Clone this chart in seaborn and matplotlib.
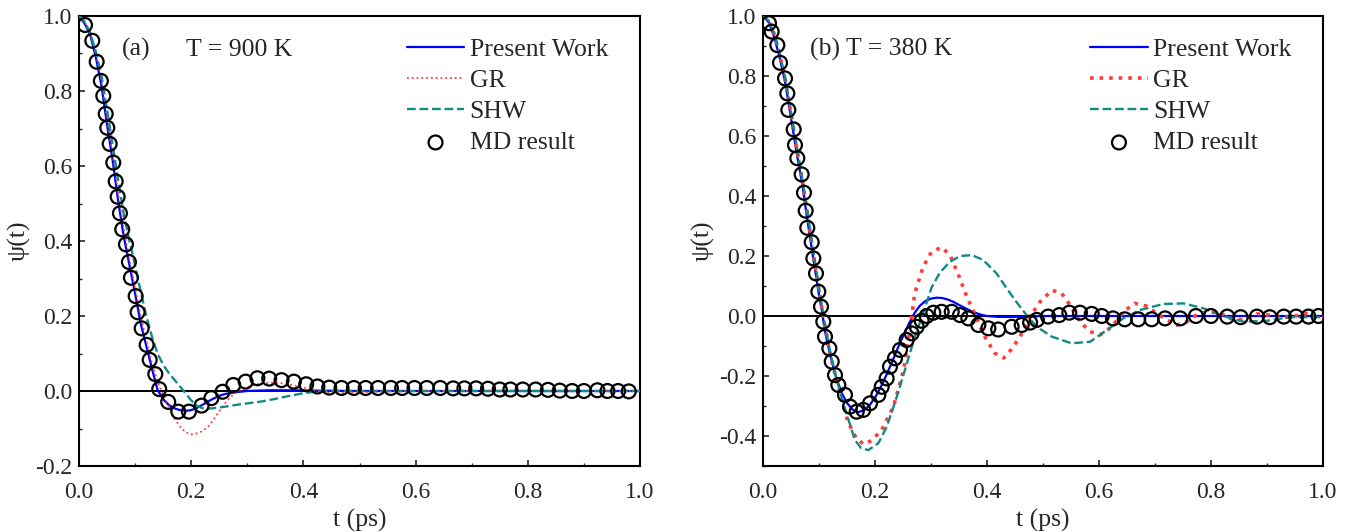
import numpy as np
import pandas as pd
import matplotlib
matplotlib.use("Agg")
import matplotlib.pyplot as plt
import seaborn as sns
from matplotlib.ticker import MultipleLocator, FormatStrFormatter

# ---------------- Panel (a): T = 900 K ----------------
a_pw_t = [0, 0.01, 0.02, 0.03, 0.04, 0.05, 0.06, 0.07, 0.08, 0.09, 0.10, 0.11, 0.12, 0.13,
          0.14, 0.15, 0.16, 0.17, 0.18, 0.19, 0.20, 0.21, 0.22, 0.23, 0.24, 0.25, 0.26,
          0.28, 0.30, 0.34, 0.38, 0.42, 0.50, 0.60, 0.80, 1.00]
a_pw_y = [1.0, 0.98, 0.95, 0.89, 0.815, 0.71, 0.615, 0.505, 0.41, 0.335, 0.26, 0.18, 0.12, 0.06,
          0.003, -0.022, -0.037, -0.046, -0.051, -0.053, -0.051, -0.045, -0.037, -0.028, -0.02,
          -0.013, -0.008, -0.003, 0.0, 0.002, 0.002, 0.001, 0.0, 0.0, 0.0, 0.0]

a_gr_t = [0, 0.01, 0.02, 0.03, 0.04, 0.05, 0.06, 0.07, 0.08, 0.09, 0.10, 0.11, 0.12, 0.13,
          0.14, 0.15, 0.16, 0.17, 0.18, 0.19, 0.20, 0.21, 0.22, 0.23, 0.24, 0.25, 0.26, 0.27,
          0.28, 0.29, 0.30, 0.32, 0.34, 0.36, 0.38, 0.40, 0.42, 0.44, 0.46, 0.48, 0.52, 0.60, 1.00]
a_gr_y = [1.0, 0.985, 0.955, 0.90, 0.83, 0.725, 0.63, 0.525, 0.43, 0.35, 0.275, 0.20, 0.135, 0.075,
          0.025, -0.01, -0.04, -0.073, -0.095, -0.11, -0.116, -0.113, -0.107, -0.095, -0.076,
          -0.054, -0.033, -0.016, -0.004, 0.005, 0.011, 0.019, 0.022, 0.021, 0.016, 0.009,
          0.002, -0.004, -0.006, -0.005, -0.002, 0.0, 0.0]

a_shw_t = [0, 0.01, 0.02, 0.03, 0.04, 0.05, 0.06, 0.07, 0.08, 0.09, 0.10, 0.11, 0.12, 0.13,
           0.14, 0.15, 0.16, 0.17, 0.18, 0.19, 0.20, 0.21, 0.22, 0.23, 0.24, 0.26, 0.28, 0.30,
           0.325, 0.35, 0.375, 0.40, 0.42, 0.45, 1.00]
a_shw_y = [1.0, 0.985, 0.955, 0.905, 0.84, 0.75, 0.655, 0.56, 0.47, 0.40, 0.335, 0.265, 0.20, 0.145,
           0.10, 0.07, 0.048, 0.03, 0.012, -0.006, -0.025, -0.039, -0.046, -0.047, -0.046,
           -0.042, -0.037, -0.033, -0.028, -0.021, -0.013, -0.006, -0.002, 0.0, 0.0]

a_md_t = [0.0107, 0.0237, 0.0315, 0.039, 0.0433, 0.0476, 0.0504, 0.0547, 0.0611, 0.0654, 0.0689,
          0.073, 0.0771, 0.0837, 0.089, 0.0926, 0.101, 0.1045, 0.1117, 0.1206, 0.126, 0.136,
          0.143, 0.159, 0.177, 0.196, 0.2185, 0.236, 0.256, 0.275, 0.297, 0.318, 0.339, 0.361,
          0.383, 0.405, 0.425, 0.446, 0.468, 0.49, 0.511, 0.533, 0.556, 0.576, 0.598, 0.62,
          0.644, 0.667, 0.687, 0.708, 0.729, 0.75, 0.769, 0.791, 0.814, 0.836, 0.857, 0.879,
          0.90, 0.924, 0.942, 0.961, 0.980]
a_md_y = [0.976, 0.934, 0.878, 0.827, 0.787, 0.739, 0.702, 0.659, 0.609, 0.559, 0.518,
          0.474, 0.431, 0.391, 0.344, 0.302, 0.253, 0.210, 0.167, 0.123, 0.083, 0.045,
          0.005, -0.029, -0.055, -0.055, -0.039, -0.019, -0.002, 0.016, 0.025, 0.034, 0.033,
          0.029, 0.025, 0.018, 0.012, 0.009, 0.008, 0.008, 0.008, 0.008, 0.008, 0.008, 0.008,
          0.008, 0.008, 0.007, 0.007, 0.007, 0.006, 0.004, 0.004, 0.004, 0.004, 0.003, 0.001,
          0.0, 0.0, 0.002, 0.0, 0.0, -0.001]

# ---------------- Panel (b): T = 380 K ----------------
b_pw_t = [0, 0.01, 0.02, 0.03, 0.04, 0.05, 0.06, 0.07, 0.08, 0.09, 0.10, 0.105, 0.11, 0.12,
          0.13, 0.14, 0.15, 0.16, 0.17, 0.18, 0.19, 0.20, 0.21, 0.22, 0.23, 0.24, 0.25, 0.26,
          0.27, 0.28, 0.29, 0.30, 0.31, 0.32, 0.33, 0.34, 0.35, 0.36, 0.37, 0.38, 0.39, 0.40,
          0.42, 0.44, 0.47, 0.50, 1.00]
b_pw_y = [1.0, 0.98, 0.93, 0.86, 0.775, 0.66, 0.545, 0.44, 0.31, 0.19, 0.07, 0.02, -0.045, -0.13,
          -0.2, -0.255, -0.29, -0.312, -0.32, -0.315, -0.298, -0.272, -0.238, -0.198, -0.155,
          -0.11, -0.068, -0.028, 0.008, 0.034, 0.05, 0.058, 0.061, 0.06, 0.055, 0.047, 0.037,
          0.027, 0.018, 0.01, 0.004, 0.0, -0.003, -0.003, -0.002, 0.0, 0.0]

b_gr_t = [0, 0.01, 0.02, 0.03, 0.04, 0.05, 0.06, 0.07, 0.08, 0.09, 0.10, 0.11, 0.12, 0.13,
          0.14, 0.152, 0.167, 0.18, 0.194, 0.212, 0.233, 0.251, 0.2625, 0.271, 0.286, 0.301,
          0.319, 0.334, 0.349, 0.364, 0.379, 0.396, 0.414, 0.43, 0.444, 0.459, 0.477, 0.495,
          0.516, 0.533, 0.548, 0.566, 0.584, 0.602, 0.623, 0.643, 0.664, 0.685, 0.703, 0.721,
          0.739, 0.757, 0.774, 0.792, 0.816, 0.834, 0.858, 0.882, 0.905, 0.93, 0.95, 0.972,
          0.99, 1.00]
b_gr_y = [1.0, 0.985, 0.94, 0.87, 0.785, 0.675, 0.56, 0.455, 0.33, 0.205, 0.085, -0.03, -0.13, -0.205,
          -0.275, -0.355, -0.408, -0.428, -0.415, -0.38, -0.302, -0.18, -0.047, 0.076, 0.164,
          0.214, 0.229, 0.203, 0.137, 0.064, 0.003, -0.069, -0.124, -0.14, -0.11, -0.069,
          -0.002, 0.048, 0.086, 0.076, 0.037, -0.019, -0.052, -0.063, -0.036, 0.014, 0.042,
          0.033, 0.009, -0.013, -0.03, -0.019, 0.003, 0.014, 0.011, -0.008, -0.013, 0.007,
          0.003, -0.005, 0.0, 0.008, -0.005, -0.004]

b_shw_t = [0, 0.01, 0.02, 0.03, 0.04, 0.05, 0.06, 0.07, 0.08, 0.09, 0.10, 0.11, 0.12, 0.13,
           0.14, 0.149, 0.164, 0.175, 0.188, 0.206, 0.221, 0.239, 0.257, 0.271, 0.286, 0.301,
           0.316, 0.334, 0.352, 0.373, 0.393, 0.417, 0.429, 0.45, 0.468, 0.489, 0.516, 0.551,
           0.584, 0.614, 0.643, 0.673, 0.715, 0.751, 0.786, 0.822, 0.858, 0.90, 0.941, 1.00]
b_shw_y = [1.0, 0.985, 0.94, 0.875, 0.79, 0.68, 0.57, 0.46, 0.34, 0.215, 0.095, -0.02, -0.12, -0.2,
           -0.27, -0.324, -0.413, -0.44, -0.447, -0.424, -0.369, -0.269, -0.158, -0.069, 0.009,
           0.095, 0.145, 0.181, 0.2, 0.203, 0.187, 0.142, 0.109, 0.053, 0.009, -0.036, -0.069,
           -0.091, -0.086, -0.047, -0.008, 0.02, 0.04, 0.042, 0.026, 0.0, -0.019, -0.016,
           -0.004, -0.004]

b_md_t = [0.0107, 0.0155, 0.0256, 0.0304, 0.0393, 0.0434, 0.0452, 0.0548, 0.0571, 0.0613, 0.069,
          0.0732, 0.0762, 0.0791, 0.087, 0.0899, 0.0946, 0.0988, 0.1036, 0.1077, 0.1107, 0.1185,
          0.1227, 0.1286, 0.1345, 0.1464, 0.1554, 0.1673, 0.1791, 0.1911, 0.206, 0.212, 0.2208,
          0.2268, 0.2357, 0.2446, 0.2565, 0.2655, 0.2744, 0.2833, 0.2923, 0.3042, 0.319, 0.337,
          0.3518, 0.3667, 0.3845, 0.4024, 0.42, 0.444, 0.462, 0.477, 0.489, 0.509, 0.529, 0.547,
          0.566, 0.587, 0.605, 0.625, 0.646, 0.670, 0.694, 0.718, 0.745, 0.773, 0.80, 0.829,
          0.853, 0.882, 0.905, 0.93, 0.952, 0.974, 0.992]
b_md_y = [0.976, 0.948, 0.903, 0.844, 0.792, 0.742, 0.687, 0.622, 0.57, 0.526, 0.472,
          0.411, 0.351, 0.294, 0.246, 0.192, 0.142, 0.081, 0.031, -0.019, -0.069, -0.108,
          -0.152, -0.197, -0.23, -0.263, -0.302, -0.319, -0.313, -0.291, -0.263, -0.236, -0.208,
          -0.169, -0.141, -0.113, -0.08, -0.058, -0.036, -0.016, 0.0, 0.011, 0.014, 0.014,
          0.003, -0.008, -0.03, -0.041, -0.045, -0.036, -0.03, -0.022, -0.013, -0.002, 0.003, 0.011,
          0.011, 0.007, 0.0, -0.008, -0.011, -0.011, -0.011, -0.008, -0.008, 0.0, 0.0, -0.002,
          -0.004, -0.002, -0.004, -0.002, -0.002, -0.002, 0.0]

labels = ["Present Work", "GR", "SHW", "MD result"]

# ---------------- Styling ----------------
sns.set_style("ticks")
plt.rcParams["font.family"] = ["Liberation Serif", "DejaVu Serif"]
plt.rcParams["axes.unicode_minus"] = False

FS_TICK = 17
FS_TEXT = 18.5
fig = plt.figure(figsize=(13.53, 5.32), dpi=100)
ax_a = fig.add_axes([79 / 1353, 1 - 466 / 532, (640 - 79) / 1353, (466 - 16) / 532])
ax_b = fig.add_axes([763 / 1353, 1 - 466 / 532, (1323 - 763) / 1353, (466 - 16) / 532])

def draw(ax, pw, gr, shw, md, gr_lw, ylim, yticks):
    ax.axhline(0, color="black", lw=1.4, zorder=1)
    sns.lineplot(data=pd.DataFrame({"t": pw[0], "psi": pw[1]}), x="t", y="psi", ax=ax,
                 color="#0000FF", lw=1.6, estimator=None, sort=False, label=labels[0], zorder=3)
    sns.lineplot(data=pd.DataFrame({"t": gr[0], "psi": gr[1]}), x="t", y="psi", ax=ax,
                 color="#FF3B3B", lw=gr_lw, linestyle=":", estimator=None, sort=False,
                 label=labels[1], zorder=3)
    sns.lineplot(data=pd.DataFrame({"t": shw[0], "psi": shw[1]}), x="t", y="psi", ax=ax,
                 color="#138A86", lw=1.7, linestyle="--", estimator=None, sort=False,
                 label=labels[2], zorder=3)
    sns.scatterplot(data=pd.DataFrame({"t": md[0], "psi": md[1]}), x="t", y="psi", ax=ax,
                    marker="o", s=100, facecolors="none", edgecolors="black", linewidths=1.6,
                    label=labels[3], zorder=4)
    ax.set_xlim(0, 1.0)
    ax.set_ylim(*ylim)
    ax.xaxis.set_major_locator(MultipleLocator(0.2))
    ax.xaxis.set_minor_locator(MultipleLocator(0.1))
    ax.set_yticks(yticks)
    ax.yaxis.set_minor_locator(MultipleLocator(0.1))
    ax.xaxis.set_major_formatter(FormatStrFormatter("%.1f"))
    ax.yaxis.set_major_formatter(FormatStrFormatter("%.1f"))
    ax.tick_params(which="major", direction="in", length=4.5, width=1.2, labelsize=FS_TICK,
                   top=False, right=False)
    ax.tick_params(axis="x", which="major", pad=11.5)
    ax.tick_params(axis="y", which="major", pad=5)
    ax.tick_params(which="minor", direction="in", length=2.5, width=1.0,
                   top=False, right=False)
    for sp in ax.spines.values():
        sp.set_linewidth(1.5)
        sp.set_color("black")
    ax.set_xlabel("t (ps)", fontsize=FS_TEXT, labelpad=4)
    ax.set_ylabel("ψ(t)", fontsize=FS_TEXT, labelpad=3)
    h, l = ax.get_legend_handles_labels()
    order = [l.index(x) for x in labels]
    ax.legend([h[i] for i in order], [l[i] for i in order], loc="upper left",
              bbox_to_anchor=(0.584, 0.952), frameon=False, fontsize=FS_TEXT,
              borderpad=0, borderaxespad=0, handlelength=2.25, handletextpad=0.2,
              labelspacing=0.32, numpoints=1)

draw(ax_a, (a_pw_t, a_pw_y), (a_gr_t, a_gr_y), (a_shw_t, a_shw_y), (a_md_t, a_md_y),
     1.3, (-0.2, 1.0), [-0.2, 0.0, 0.2, 0.4, 0.6, 0.8, 1.0])
draw(ax_b, (b_pw_t, b_pw_y), (b_gr_t, b_gr_y), (b_shw_t, b_shw_y), (b_md_t, b_md_y),
     2.6, (-0.5, 1.0), [-0.4, -0.2, 0.0, 0.2, 0.4, 0.6, 0.8, 1.0])

ax_a.text(0.077, 0.925, "(a)", transform=ax_a.transAxes, fontsize=FS_TEXT, va="center", ha="left")
ax_a.text(0.191, 0.925, "T = 900 K", transform=ax_a.transAxes, fontsize=FS_TEXT, va="center", ha="left")
ax_b.text(0.084, 0.925, "(b) T = 380 K", transform=ax_b.transAxes, fontsize=FS_TEXT, va="center", ha="left")

fig.savefig("out.png", dpi=100)
